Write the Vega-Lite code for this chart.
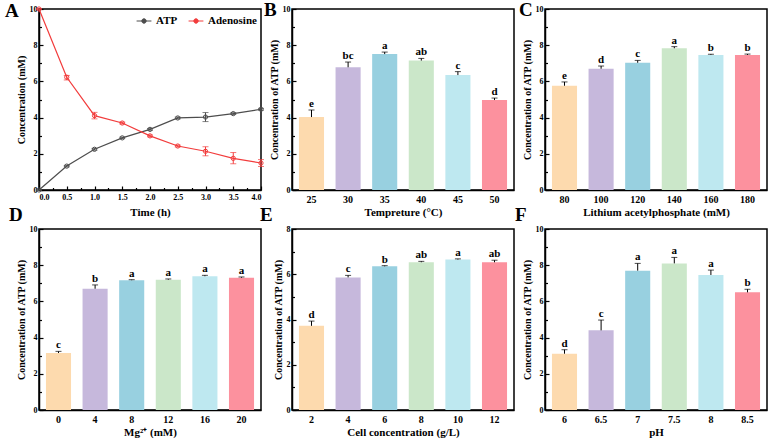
{
  "$schema": "https://vega.github.io/schema/vega-lite/v6.json",
  "background": "white",
  "padding": {"left": 4, "top": 0, "right": 5, "bottom": 2},
  "datasets": {
    "A": [
      {"t": 0, "s": "ATP", "v": 0, "lo": 0, "hi": 0},
      {"t": 0.5, "s": "ATP", "v": 1.32, "lo": 1.28, "hi": 1.36},
      {"t": 1.0, "s": "ATP", "v": 2.25, "lo": 2.2, "hi": 2.3},
      {"t": 1.5, "s": "ATP", "v": 2.88, "lo": 2.84, "hi": 2.92},
      {"t": 2.0, "s": "ATP", "v": 3.35, "lo": 3.3, "hi": 3.4},
      {"t": 2.5, "s": "ATP", "v": 3.98, "lo": 3.93, "hi": 4.03},
      {"t": 3.0, "s": "ATP", "v": 4.03, "lo": 3.78, "hi": 4.28},
      {"t": 3.5, "s": "ATP", "v": 4.22, "lo": 4.17, "hi": 4.27},
      {"t": 4.0, "s": "ATP", "v": 4.46, "lo": 4.41, "hi": 4.51},
      {"t": 0, "s": "Adenosine", "v": 10, "lo": 10, "hi": 10},
      {"t": 0.5, "s": "Adenosine", "v": 6.23, "lo": 6.08, "hi": 6.33},
      {"t": 1.0, "s": "Adenosine", "v": 4.11, "lo": 3.93, "hi": 4.29},
      {"t": 1.5, "s": "Adenosine", "v": 3.7, "lo": 3.65, "hi": 3.75},
      {"t": 2.0, "s": "Adenosine", "v": 2.99, "lo": 2.94, "hi": 3.04},
      {"t": 2.5, "s": "Adenosine", "v": 2.43, "lo": 2.38, "hi": 2.48},
      {"t": 3.0, "s": "Adenosine", "v": 2.14, "lo": 1.89, "hi": 2.39},
      {"t": 3.5, "s": "Adenosine", "v": 1.75, "lo": 1.45, "hi": 2.07},
      {"t": 4.0, "s": "Adenosine", "v": 1.49, "lo": 1.3, "hi": 1.68}
    ],
    "B": [
      {"k": "25", "c": "c1", "v": 4.03, "e": 4.42, "g": "e"},
      {"k": "30", "c": "c2", "v": 6.78, "e": 7.07, "g": "bc"},
      {"k": "35", "c": "c3", "v": 7.51, "e": 7.62, "g": "a"},
      {"k": "40", "c": "c4", "v": 7.15, "e": 7.27, "g": "ab"},
      {"k": "45", "c": "c5", "v": 6.35, "e": 6.54, "g": "c"},
      {"k": "50", "c": "c6", "v": 4.97, "e": 5.08, "g": "d"}
    ],
    "C": [
      {"k": "80", "c": "c1", "v": 5.76, "e": 5.97, "g": "e"},
      {"k": "100", "c": "c2", "v": 6.7, "e": 6.85, "g": "d"},
      {"k": "120", "c": "c3", "v": 7.03, "e": 7.16, "g": "c"},
      {"k": "140", "c": "c4", "v": 7.83, "e": 7.92, "g": "a"},
      {"k": "160", "c": "c5", "v": 7.46, "e": 7.5, "g": "b"},
      {"k": "180", "c": "c6", "v": 7.46, "e": 7.51, "g": "b"}
    ],
    "D": [
      {"k": "0", "c": "c1", "v": 3.15, "e": 3.24, "g": "c"},
      {"k": "4", "c": "c2", "v": 6.7, "e": 6.91, "g": "b"},
      {"k": "8", "c": "c3", "v": 7.17, "e": 7.2, "g": "a"},
      {"k": "12", "c": "c4", "v": 7.2, "e": 7.24, "g": "a"},
      {"k": "16", "c": "c5", "v": 7.39, "e": 7.44, "g": "a"},
      {"k": "20", "c": "c6", "v": 7.31, "e": 7.35, "g": "a"}
    ],
    "E": [
      {"k": "2", "c": "c1", "v": 3.72, "e": 3.93, "g": "d"},
      {"k": "4", "c": "c2", "v": 5.86, "e": 5.95, "g": "c"},
      {"k": "6", "c": "c3", "v": 6.35, "e": 6.38, "g": "b"},
      {"k": "8", "c": "c4", "v": 6.53, "e": 6.57, "g": "ab"},
      {"k": "10", "c": "c5", "v": 6.65, "e": 6.68, "g": "a"},
      {"k": "12", "c": "c6", "v": 6.53, "e": 6.62, "g": "ab"}
    ],
    "F": [
      {"k": "6", "c": "c1", "v": 3.11, "e": 3.33, "g": "d"},
      {"k": "6.5", "c": "c2", "v": 4.4, "e": 4.97, "g": "c"},
      {"k": "7", "c": "c3", "v": 7.7, "e": 8.1, "g": "a"},
      {"k": "7.5", "c": "c4", "v": 8.1, "e": 8.43, "g": "a"},
      {"k": "8", "c": "c5", "v": 7.46, "e": 7.73, "g": "a"},
      {"k": "8.5", "c": "c6", "v": 6.5, "e": 6.67, "g": "b"}
    ]
  },
  "columns": 3,
  "bounds": "flush",
  "spacing": {"row": 39, "column": 31},
  "resolve": {"scale": {"color": "independent", "x": "independent", "y": "independent"}},
  "concat": [
    {
      "width": 222, "height": 181,
      "title": {"text": "A", "dx": -34, "offset": -16},
      "data": {"name": "A"},
      "encoding": {
        "x": {"field": "t", "type": "quantitative", "scale": {"domain": [0, 4], "nice": false},
          "axis": {"title": "Time (h)", "values": [0,0.25,0.5,0.75,1,1.25,1.5,1.75,2,2.25,2.5,2.75,3,3.25,3.5,3.75,4], "tickCount": 30,
            "labelExpr": "(datum.value*2) % 1 == 0 ? format(datum.value, '.1f') : ''", "labelFontSize": 8,
            "tickSize": {"condition": {"test": "(datum.value*2) % 1 == 0", "value": -4}, "value": -2.5}, "labelPadding": 7, "titleFontSize": 11, "titlePadding": 4}},
        "color": {"field": "s", "type": "nominal", "scale": {"domain": ["ATP", "Adenosine"], "range": ["#4D4D4D", "#F23C3C"]},
          "legend": {"orient": "top-right", "direction": "horizontal", "title": null, "offset": 4, "labelFont": "Liberation Serif", "labelFontWeight": "bold", "labelFontSize": 11, "labelColor": "black", "symbolType": "M-1,0H-0.3M0.3,0H1M0.3,0A0.3,0.3 0 1 1 -0.3,0A0.3,0.3 0 1 1 0.3,0", "symbolSize": 220, "symbolStrokeWidth": 1, "symbolFillColor": "transparent", "columnPadding": 8}}
      },
      "layer": [
        {"mark": {"type": "line", "strokeWidth": 1.2, "point": {"filled": false, "size": 18, "strokeWidth": 1}},
          "encoding": {"y": {"field": "v", "type": "quantitative", "scale": {"domain": [0, 10]},
            "axis": {"title": "Concentration (mM)", "values": [0,1,2,3,4,5,6,7,8,9,10], "tickCount": 20, "labelExpr": "datum.value % 2 == 0 ? format(datum.value, 'd') : ''",
              "tickSize": {"condition": {"test": "datum.value % 2 == 0", "value": -4}, "value": -2.5}}}}},
        {"mark": {"type": "rule", "strokeWidth": 1}, "encoding": {"y": {"field": "lo", "type": "quantitative", "title": "Concentration (mM)"}, "y2": {"field": "hi"}}},
        {"mark": {"type": "tick", "orient": "horizontal", "size": 6, "thickness": 1}, "encoding": {"y": {"field": "lo", "type": "quantitative", "title": "Concentration (mM)"}}},
        {"mark": {"type": "tick", "orient": "horizontal", "size": 6, "thickness": 1}, "encoding": {"y": {"field": "hi", "type": "quantitative", "title": "Concentration (mM)"}}}
      ]
    },
    {
      "width": 222, "height": 181,
      "title": {"text": "B", "dx": -28, "offset": -15},
      "data": {"name": "B"},
      "encoding": {
        "x": {"field": "k", "type": "ordinal", "sort": null, "scale": {"paddingInner": 0.315, "paddingOuter": 0.19}, "axis": {"title": "Tempreture (°C)"}},
        "color": {"field": "c", "type": "nominal", "scale": {"domain": ["c1","c2","c3","c4","c5","c6"], "range": ["#FDDAAE","#C6B8DC","#98D0E0","#CBE7C9","#BEE8F0","#FC919E"]}, "legend": null}
      },
      "layer": [
        {"mark": {"type": "bar"}, "encoding": {"y": {"field": "v", "type": "quantitative", "scale": {"domain": [0, 10]},
          "axis": {"title": "Concentration of ATP (mM)", "values": [0,1,2,3,4,5,6,7,8,9,10], "tickCount": 20, "labelExpr": "datum.value % 2 == 0 ? format(datum.value, 'd') : ''",
            "tickSize": {"condition": {"test": "datum.value % 2 == 0", "value": -4}, "value": -2.5}}}}},
        {"mark": {"type": "rule", "strokeWidth": 1}, "encoding": {"y": {"field": "v", "type": "quantitative", "title": "Concentration of ATP (mM)"}, "y2": {"field": "e"}, "color": {"value": "black"}}},
        {"mark": {"type": "tick", "orient": "horizontal", "size": 6, "thickness": 1}, "encoding": {"y": {"field": "e", "type": "quantitative", "title": "Concentration of ATP (mM)"}, "color": {"value": "black"}}},
        {"mark": {"type": "text", "baseline": "bottom", "dy": -1, "font": "Liberation Serif", "fontWeight": "bold", "fontSize": 11}, "encoding": {"y": {"field": "e", "type": "quantitative", "title": "Concentration of ATP (mM)"}, "text": {"field": "g"}, "color": {"value": "black"}}}
      ]
    },
    {
      "width": 222, "height": 181,
      "title": {"text": "C", "dx": -26, "offset": -15},
      "data": {"name": "C"},
      "encoding": {
        "x": {"field": "k", "type": "ordinal", "sort": null, "scale": {"paddingInner": 0.315, "paddingOuter": 0.19}, "axis": {"title": "Lithium acetylphosphate (mM)"}},
        "color": {"field": "c", "type": "nominal", "scale": {"domain": ["c1","c2","c3","c4","c5","c6"], "range": ["#FDDAAE","#C6B8DC","#98D0E0","#CBE7C9","#BEE8F0","#FC919E"]}, "legend": null}
      },
      "layer": [
        {"mark": {"type": "bar"}, "encoding": {"y": {"field": "v", "type": "quantitative", "scale": {"domain": [0, 10]},
          "axis": {"title": "Concentration of ATP (mM)", "values": [0,1,2,3,4,5,6,7,8,9,10], "tickCount": 20, "labelExpr": "datum.value % 2 == 0 ? format(datum.value, 'd') : ''",
            "tickSize": {"condition": {"test": "datum.value % 2 == 0", "value": -4}, "value": -2.5}}}}},
        {"mark": {"type": "rule", "strokeWidth": 1}, "encoding": {"y": {"field": "v", "type": "quantitative", "title": "Concentration of ATP (mM)"}, "y2": {"field": "e"}, "color": {"value": "black"}}},
        {"mark": {"type": "tick", "orient": "horizontal", "size": 6, "thickness": 1}, "encoding": {"y": {"field": "e", "type": "quantitative", "title": "Concentration of ATP (mM)"}, "color": {"value": "black"}}},
        {"mark": {"type": "text", "baseline": "bottom", "dy": -1, "font": "Liberation Serif", "fontWeight": "bold", "fontSize": 11}, "encoding": {"y": {"field": "e", "type": "quantitative", "title": "Concentration of ATP (mM)"}, "text": {"field": "g"}, "color": {"value": "black"}}}
      ]
    },
    {
      "width": 222, "height": 181,
      "title": {"text": "D", "dx": -30, "offset": 0},
      "data": {"name": "D"},
      "encoding": {
        "x": {"field": "k", "type": "ordinal", "sort": null, "scale": {"paddingInner": 0.315, "paddingOuter": 0.19}, "axis": {"title": "Mg²⁺ (mM)"}},
        "color": {"field": "c", "type": "nominal", "scale": {"domain": ["c1","c2","c3","c4","c5","c6"], "range": ["#FDDAAE","#C6B8DC","#98D0E0","#CBE7C9","#BEE8F0","#FC919E"]}, "legend": null}
      },
      "layer": [
        {"mark": {"type": "bar"}, "encoding": {"y": {"field": "v", "type": "quantitative", "scale": {"domain": [0, 10]},
          "axis": {"title": "Concentration of ATP (mM)", "values": [0,1,2,3,4,5,6,7,8,9,10], "tickCount": 20, "labelExpr": "datum.value % 2 == 0 ? format(datum.value, 'd') : ''",
            "tickSize": {"condition": {"test": "datum.value % 2 == 0", "value": -4}, "value": -2.5}}}}},
        {"mark": {"type": "rule", "strokeWidth": 1}, "encoding": {"y": {"field": "v", "type": "quantitative", "title": "Concentration of ATP (mM)"}, "y2": {"field": "e"}, "color": {"value": "black"}}},
        {"mark": {"type": "tick", "orient": "horizontal", "size": 6, "thickness": 1}, "encoding": {"y": {"field": "e", "type": "quantitative", "title": "Concentration of ATP (mM)"}, "color": {"value": "black"}}},
        {"mark": {"type": "text", "baseline": "bottom", "dy": -1, "font": "Liberation Serif", "fontWeight": "bold", "fontSize": 11}, "encoding": {"y": {"field": "e", "type": "quantitative", "title": "Concentration of ATP (mM)"}, "text": {"field": "g"}, "color": {"value": "black"}}}
      ]
    },
    {
      "width": 222, "height": 181,
      "title": {"text": "E", "dx": -32, "offset": 0},
      "data": {"name": "E"},
      "encoding": {
        "x": {"field": "k", "type": "ordinal", "sort": null, "scale": {"paddingInner": 0.315, "paddingOuter": 0.19}, "axis": {"title": "Cell concentration (g/L)"}},
        "color": {"field": "c", "type": "nominal", "scale": {"domain": ["c1","c2","c3","c4","c5","c6"], "range": ["#FDDAAE","#C6B8DC","#98D0E0","#CBE7C9","#BEE8F0","#FC919E"]}, "legend": null}
      },
      "layer": [
        {"mark": {"type": "bar"}, "encoding": {"y": {"field": "v", "type": "quantitative", "scale": {"domain": [0, 8]},
          "axis": {"title": "Concentration of ATP (mM)", "values": [0,1,2,3,4,5,6,7,8], "tickCount": 20, "labelExpr": "datum.value % 2 == 0 ? format(datum.value, 'd') : ''",
            "tickSize": {"condition": {"test": "datum.value % 2 == 0", "value": -4}, "value": -2.5}}}}},
        {"mark": {"type": "rule", "strokeWidth": 1}, "encoding": {"y": {"field": "v", "type": "quantitative", "title": "Concentration of ATP (mM)"}, "y2": {"field": "e"}, "color": {"value": "black"}}},
        {"mark": {"type": "tick", "orient": "horizontal", "size": 6, "thickness": 1}, "encoding": {"y": {"field": "e", "type": "quantitative", "title": "Concentration of ATP (mM)"}, "color": {"value": "black"}}},
        {"mark": {"type": "text", "baseline": "bottom", "dy": -1, "font": "Liberation Serif", "fontWeight": "bold", "fontSize": 11}, "encoding": {"y": {"field": "e", "type": "quantitative", "title": "Concentration of ATP (mM)"}, "text": {"field": "g"}, "color": {"value": "black"}}}
      ]
    },
    {
      "width": 222, "height": 181,
      "title": {"text": "F", "dx": -30, "offset": 0},
      "data": {"name": "F"},
      "encoding": {
        "x": {"field": "k", "type": "ordinal", "sort": null, "scale": {"paddingInner": 0.315, "paddingOuter": 0.19}, "axis": {"title": "pH"}},
        "color": {"field": "c", "type": "nominal", "scale": {"domain": ["c1","c2","c3","c4","c5","c6"], "range": ["#FDDAAE","#C6B8DC","#98D0E0","#CBE7C9","#BEE8F0","#FC919E"]}, "legend": null}
      },
      "layer": [
        {"mark": {"type": "bar"}, "encoding": {"y": {"field": "v", "type": "quantitative", "scale": {"domain": [0, 10]},
          "axis": {"title": "Concentration of ATP (mM)", "values": [0,1,2,3,4,5,6,7,8,9,10], "tickCount": 20, "labelExpr": "datum.value % 2 == 0 ? format(datum.value, 'd') : ''",
            "tickSize": {"condition": {"test": "datum.value % 2 == 0", "value": -4}, "value": -2.5}}}}},
        {"mark": {"type": "rule", "strokeWidth": 1}, "encoding": {"y": {"field": "v", "type": "quantitative", "title": "Concentration of ATP (mM)"}, "y2": {"field": "e"}, "color": {"value": "black"}}},
        {"mark": {"type": "tick", "orient": "horizontal", "size": 6, "thickness": 1}, "encoding": {"y": {"field": "e", "type": "quantitative", "title": "Concentration of ATP (mM)"}, "color": {"value": "black"}}},
        {"mark": {"type": "text", "baseline": "bottom", "dy": -1, "font": "Liberation Serif", "fontWeight": "bold", "fontSize": 11}, "encoding": {"y": {"field": "e", "type": "quantitative", "title": "Concentration of ATP (mM)"}, "text": {"field": "g"}, "color": {"value": "black"}}}
      ]
    }
  ],
  "config": {
    "view": {"stroke": "black", "strokeWidth": 1.5},
    "title": {"font": "Liberation Serif", "fontWeight": "bold", "fontSize": 19, "anchor": "start", "frame": "group", "baseline": "bottom", "color": "black"},
    "axis": {"domainColor": "black", "domainWidth": 1.5, "tickColor": "black", "tickWidth": 1.2, "grid": false, "labelOverlap": false,
      "labelFont": "Liberation Serif", "labelFontWeight": "bold", "labelColor": "black",
      "titleFont": "Liberation Serif", "titleFontWeight": "bold", "titleColor": "black"},
    "axisY": {"labelFontSize": 8, "titleFontSize": 10, "labelPadding": 6, "titlePadding": 3},
    "axisX": {"labelFontSize": 10, "labelAngle": 0, "titleFontSize": 11, "labelPadding": 7, "titlePadding": 2, "tickSize": -3},
    "bar": {"stroke": null},
    "tick": {"color": "black"}
  }
}
